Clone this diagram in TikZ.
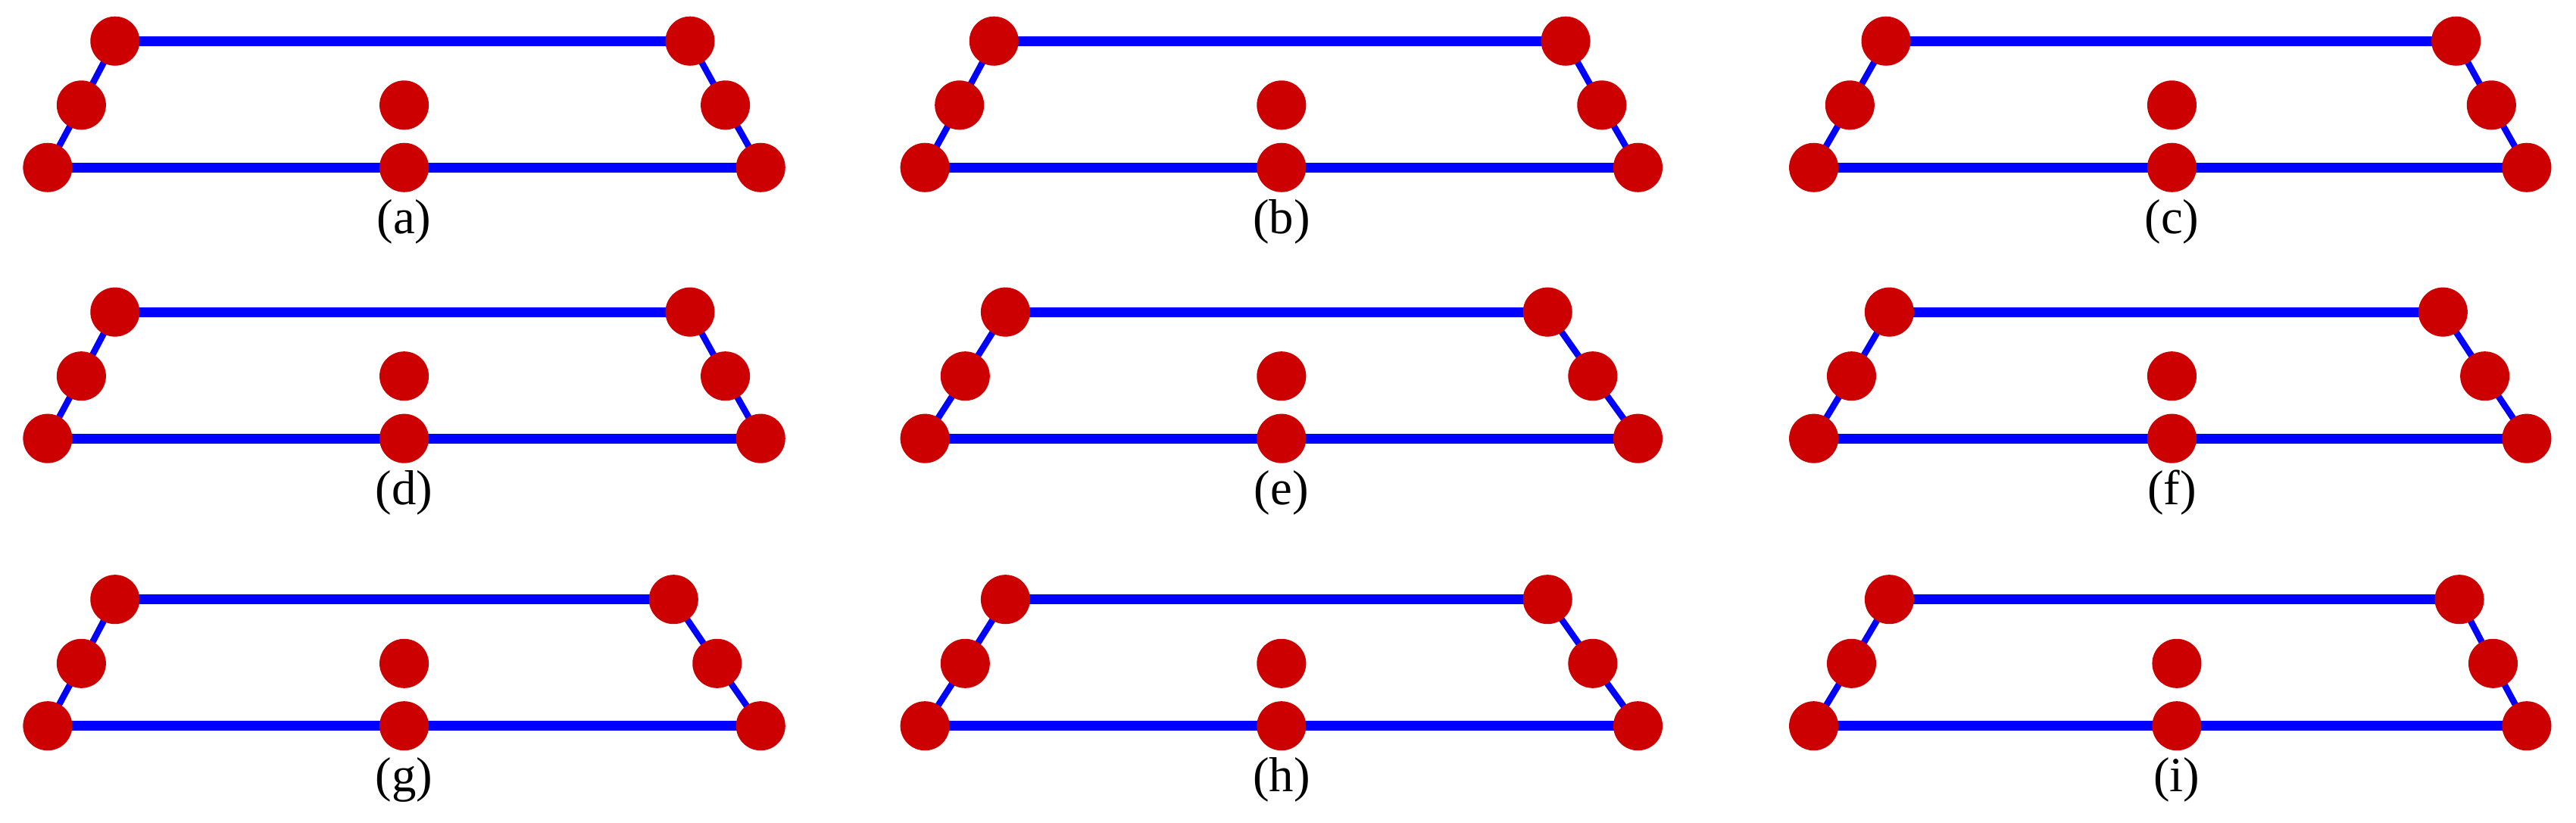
\documentclass[tikz,border=0pt]{standalone}
\usepackage{fontspec}
\setmainfont{Liberation Serif}
\begin{document}
\begin{tikzpicture}[x=0.02cm,y=-0.02cm,
  dot/.style={circle,fill={rgb,255:red,204;green,0;blue,0},minimum size=0.6cm,inner sep=0pt},
  thickl/.style={draw={rgb,255:red,0;green,0;blue,255},line width=3.4pt},
  thinl/.style={draw={rgb,255:red,0;green,0;blue,255},line width=2.2pt},
  lab/.style={font=\fontsize{17}{20}\selectfont}]
\useasboundingbox (0,0) rectangle (1568,500.7);
\foreach \n/\bx/\ty/\tl/\tr/\cx/\l in {
 a/29/25/70/420/246/a, b/563/25/605/953/780/b, c/1104/25/1148/1495/1322/c,
 d/29/190/70/420/246/d, e/563/190/612/942/780/e, f/1104/190/1150/1487/1322/f,
 g/29/365/70/410/246/g, h/563/365/612/942/780/h, i/1104/365/1150/1497/1325/i}{
  \pgfmathsetmacro{\my}{\ty+39}
  \pgfmathsetmacro{\by}{\ty+77}
  \pgfmathsetmacro{\ml}{(\bx+\tl)/2}
  \pgfmathsetmacro{\br}{\bx+434}
  \pgfmathsetmacro{\mr}{(\br+\tr)/2}
  \pgfmathsetmacro{\ly}{\ty+110}
  \coordinate (\n BL) at (\bx,\by);
  \coordinate (\n ML) at (\ml,\my);
  \coordinate (\n TL) at (\tl,\ty);
  \coordinate (\n TR) at (\tr,\ty);
  \coordinate (\n MR) at (\mr,\my);
  \coordinate (\n BR) at (\br,\by);
  \coordinate (\n BC) at (\cx,\by);
  \coordinate (\n MC) at (\cx,\my);
  \draw[thickl] (\n TL) -- (\n TR);
  \draw[thickl] (\n BL) -- (\n BR);
  \draw[thinl] (\n BL) -- (\n ML) -- (\n TL);
  \draw[thinl] (\n BR) -- (\n MR) -- (\n TR);
  \foreach \p in {BL,ML,TL,TR,MR,BR,BC,MC} \node[dot] (\n\p n) at (\n\p) {};
  \node[lab] (\n lab) at (\cx,\ly) {(\l)};
}
\end{tikzpicture}
\end{document}
